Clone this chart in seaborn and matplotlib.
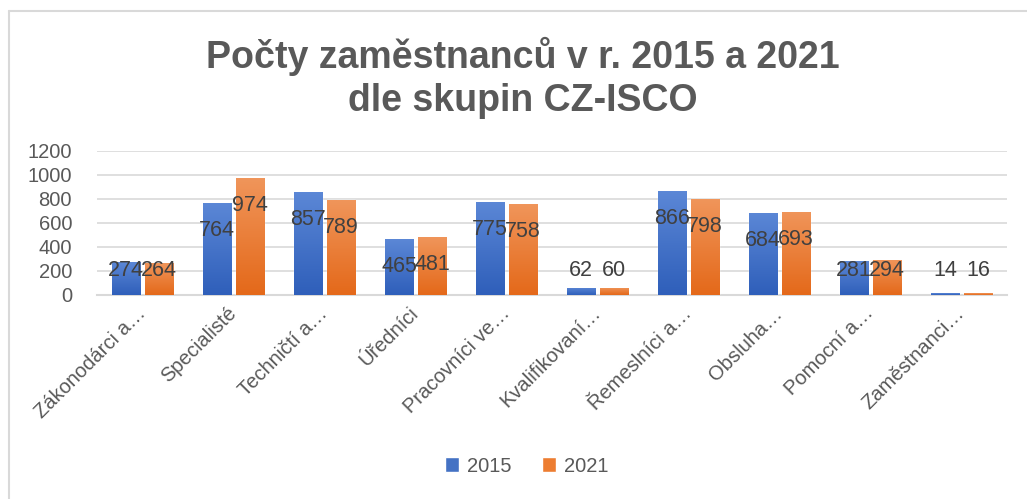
import pandas as pd
import matplotlib.pyplot as plt
import matplotlib.colors as mcolors
import seaborn as sns
import numpy as np

# data
categories = ['Zákonodárci a…', 'Specialisté', 'Techničtí a…', 'Úředníci',
              'Pracovníci ve…', 'Kvalifikovaní…', 'Řemeslníci a…', 'Obsluha…',
              'Pomocní a…', 'Zaměstnanci…']
years = ['2015', '2021']
values_2015 = [274, 764, 857, 465, 775, 62, 866, 684, 281, 14]
values_2021 = [264, 974, 789, 481, 758, 60, 798, 693, 294, 16]
y_ticks = [0, 200, 400, 600, 800, 1000, 1200]

df = pd.DataFrame({
    'skupina': categories * 2,
    'rok': [years[0]] * len(categories) + [years[1]] * len(categories),
    'pocet': values_2015 + values_2021,
})

sns.set_theme(style='white')
plt.rcParams['font.family'] = ['Liberation Sans', 'DejaVu Sans']

blue = '#4472C4'
orange = '#ED7D31'
grad = {blue: ('#5B87D6', '#2F5FBA'), orange: ('#F0955A', '#E4691A')}
text_gray = '#595959'

fig = plt.figure(figsize=(10.27, 4.99), dpi=100)
ax = fig.add_axes([97 / 1027, 1 - 295 / 499, 910 / 1027, 144 / 499])

sns.barplot(data=df, x='skupina', y='pocet', hue='rok', order=categories,
            hue_order=years, palette=[blue, orange], width=0.72, gap=0.14,
            saturation=1, ax=ax, zorder=3, legend=True)

# gradient fill of bars
for p in ax.patches:
    fc = mcolors.to_hex(p.get_facecolor())
    if fc.upper() not in (blue, orange):
        continue
    top, bot = grad[fc.upper()]
    x0, y0 = p.get_x(), p.get_y()
    w, h = p.get_width(), p.get_height()
    cmap = mcolors.LinearSegmentedColormap.from_list('g', [bot, top])
    im = ax.imshow(np.linspace(0, 1, 64).reshape(-1, 1), cmap=cmap,
                   extent=[x0, x0 + w, y0, y0 + h], origin='lower',
                   aspect='auto', zorder=3.5)
    im.set_clip_path(p)

ax.set_xlim(-0.5, len(categories) - 0.5)
ax.set_ylim(0, 1200)
ax.set_yticks(y_ticks)
ax.set_yticklabels([str(t) for t in y_ticks], fontsize=14.5, color=text_gray)
ax.yaxis.grid(True, color='#D9D9D9', linewidth=1.2, zorder=0)
ax.set_axisbelow(True)
for s in ['left', 'right', 'top']:
    ax.spines[s].set_visible(False)
ax.spines['bottom'].set_color('#D9D9D9')
ax.spines['bottom'].set_linewidth(1.5)
ax.tick_params(axis='both', length=0)
ax.tick_params(axis='y', pad=18)
ax.set_xlabel('')
ax.set_ylabel('')
plt.setp(ax.get_xticklabels(), rotation=45, ha='right', va='center',
         rotation_mode='anchor', fontsize=14.5, color=text_gray)
ax.tick_params(axis='x', pad=11)

# data labels
for cont in ax.containers:
    for bar, v in zip(cont, cont.datavalues):
        ly = max(v - 230, 208)
        ax.text(bar.get_x() + bar.get_width() / 2, ly, f'{v:.0f}',
                ha='center', va='center', fontsize=15.5, color='#404040', zorder=5)

# legend
handles, labels = ax.get_legend_handles_labels()
ax.legend(handles, labels, loc='center', bbox_to_anchor=(527 / 1027, 1 - 466 / 499),
          bbox_transform=fig.transFigure, ncol=2, frameon=False, fontsize=14.5,
          handlelength=0.7, handleheight=0.7, handletextpad=0.4, columnspacing=1.5,
          labelcolor=text_gray)

# title
fig.text(523 / 1027, 1 - 56 / 499, 'Počty zaměstnanců v r. 2015 a 2021',
         ha='center', va='center', fontsize=27, fontweight='bold', color=text_gray)
fig.text(523 / 1027, 1 - 101 / 499, 'dle skupin CZ-ISCO',
         ha='center', va='center', fontsize=27, fontweight='bold', color=text_gray)

# chart frame
fig.add_artist(plt.Line2D([9 / 1027, 1], [1 - 11 / 499, 1 - 11 / 499],
                          transform=fig.transFigure, color='#D9D9D9', linewidth=1.5))
fig.add_artist(plt.Line2D([9 / 1027, 9 / 1027], [0, 1 - 11 / 499],
                          transform=fig.transFigure, color='#D9D9D9', linewidth=1.5))

fig.savefig('out.png', dpi=100)
